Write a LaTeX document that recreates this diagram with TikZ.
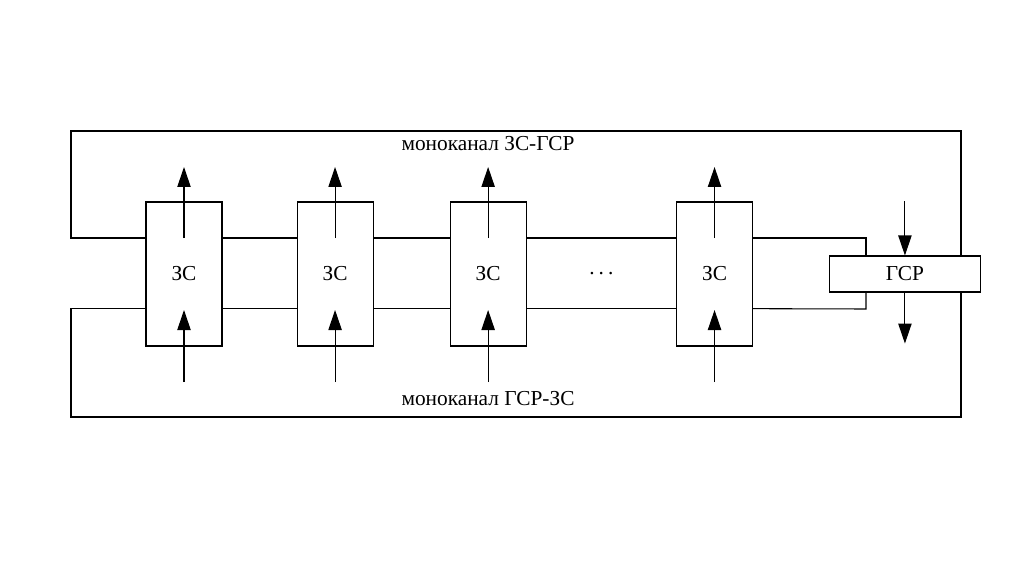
\documentclass[tikz,border=0pt]{standalone}
\usepackage{fontspec}
\setmainfont{Liberation Serif}
\usetikzlibrary{arrows.meta, positioning}
\tikzset{box/.style={rectangle,draw,inner sep=0pt,minimum width=57pt,minimum height=108pt,font=\fontsize{16}{18}\selectfont},
  gsrbox/.style={rectangle,draw,fill=white,inner sep=0pt,minimum width=113pt,minimum height=27pt,font=\fontsize{16}{18}\selectfont},
  line/.style={-{Triangle[length=15pt,width=10pt]}},
  chan/.style={font=\fontsize{16}{18}\selectfont}}

\begin{document}
\begin{tikzpicture}[x=0.75pt,y=-0.75pt,line width=0.8pt]
\useasboundingbox (0,0) rectangle (1024,574);
\node[box] (zs1) at (184,274) {ЗС};
\node[box, right=55.5pt of zs1] (zs2) {ЗС};
\node[box, right=57pt of zs2] (zs3) {ЗС};
\node[box, right=112pt of zs3] (zs4) {ЗС};
\node[gsrbox, right=57pt of zs4] (gsr) {ГСР};
\path (zs3) -- node[chan] (dots) {.\hspace{3pt}.\hspace{3pt}.} (zs4);
\node[chan] (up) at (488,144) {моноканал ЗС-ГСР};
\node[chan] (dn) at (488,399) {моноканал ГСР-ЗС};
% channel corners
\coordinate (tl) at (71,131);
\coordinate (tr) at (961,131);
\coordinate (bl) at (71,417);
\coordinate (br) at (961,417);
\coordinate (ri) at (866,238);
\coordinate (rb) at (866,309);
% upper channel
\draw ([yshift=27pt]zs1.west) -| (tl) -- (tr) -- (tr |- gsr.north);
\draw ([yshift=27pt]zs4.east) -- (ri) -- (ri |- gsr.north);
% lower channel
\draw ([yshift=-26pt]zs1.west) -| (bl) -- (br) -- (br |- gsr.south);
\draw ([yshift=-26pt]zs4.east) -- (rb) -- (rb |- gsr.south);
\foreach \a/\b in {zs1/zs2,zs2/zs3,zs3/zs4} {
  \draw ([yshift=27pt]\a.east) -- ([yshift=27pt]\b.west);
  \draw ([yshift=-26pt]\a.east) -- ([yshift=-26pt]\b.west);
}
\foreach \n in {1,...,4} {
  \draw[line] (zs\n.center) ++(0,-36) -- ++(0,-71);
  \draw[line] (zs\n.center) ++(0,108) -- ++(0,-72);
}
\draw[line] (gsr.north) ++(0,-54) -- (gsr.north);
\draw[line] (gsr.south) -- ++(0,51);
\end{tikzpicture}
\end{document}
